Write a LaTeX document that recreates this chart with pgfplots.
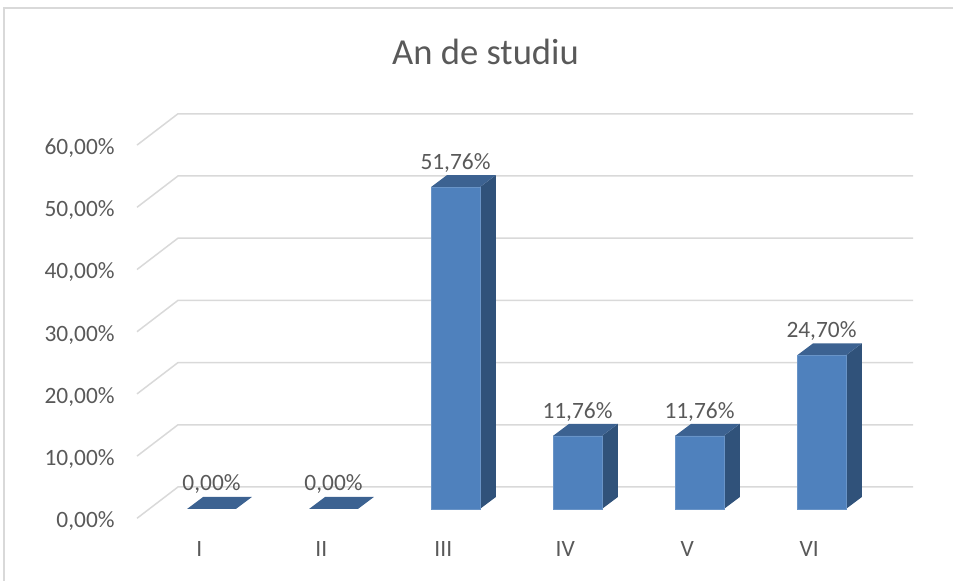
\documentclass[border=0pt]{standalone}
\usepackage{pgfplots}
\pgfplotsset{compat=1.18}
\usepackage{fontspec}
\setmainfont{Carlito}
\definecolor{gridc}{HTML}{D9D9D9}
\definecolor{txtc}{HTML}{595959}
\definecolor{frontc}{HTML}{4F81BD}
\definecolor{sidec}{HTML}{30527A}
\definecolor{topc}{HTML}{3C6291}
\tikzset{lab/.style={anchor=base, inner sep=0pt, text=txtc, font=\fontsize{11.7}{14}\selectfont}}
\begin{document}
\begin{tikzpicture}
\begin{axis}[
  at={(0,0)}, anchor=south west,
  x=61pt, y=3.11pt, scale only axis,
  xmin=-1.7336, xmax=6.0779, ymin=-11.576, ymax=81.83,
  axis lines=none, ticks=none, clip=false,
]
% frame
\addplot[color=gridc, line width=0.8pt] coordinates {(-1.701,-11.576) (-1.701,80.55) (6.0779,80.55)};
% back gridlines and diagonals
\pgfplotsinvokeforeach{0,10,20,30,40,50,60}{
  \addplot[color=gridc, line width=0.75pt] coordinates {(-0.6107,#1-1.5) (-0.2746,#1+3.54) (5.75,#1+3.54)};
}
% tick labels
\pgfplotsinvokeforeach{0,10,20,30,40,50,60}{
  \node[lab, anchor=base east] at (axis cs:-0.791,#1-3.0) {#1,00\%};
}
% zero slabs I, II
\addplot[fill=topc, draw=none] coordinates {(-0.20,0) (0.20,0) (0.331,1.93) (-0.069,1.93) (-0.20,0)};
\addplot[fill=topc, draw=none] coordinates {(0.80,0) (1.20,0) (1.331,1.93) (0.931,1.93) (0.80,0)};
% III
\addplot[fill=sidec, draw=none] coordinates {(2.20,0) (2.331,1.93) (2.331,53.69) (2.20,51.76) (2.20,0)};
\addplot[fill=topc, draw=none] coordinates {(1.80,51.76) (2.20,51.76) (2.331,53.69) (1.931,53.69) (1.80,51.76)};
% IV
\addplot[fill=sidec, draw=none] coordinates {(3.20,0) (3.331,1.93) (3.331,13.69) (3.20,11.76) (3.20,0)};
\addplot[fill=topc, draw=none] coordinates {(2.80,11.76) (3.20,11.76) (3.331,13.69) (2.931,13.69) (2.80,11.76)};
% V
\addplot[fill=sidec, draw=none] coordinates {(4.20,0) (4.331,1.93) (4.331,13.69) (4.20,11.76) (4.20,0)};
\addplot[fill=topc, draw=none] coordinates {(3.80,11.76) (4.20,11.76) (4.331,13.69) (3.931,13.69) (3.80,11.76)};
% VI
\addplot[fill=sidec, draw=none] coordinates {(5.20,0) (5.331,1.93) (5.331,26.63) (5.20,24.70) (5.20,0)};
\addplot[fill=topc, draw=none] coordinates {(4.80,24.70) (5.20,24.70) (5.331,26.63) (4.931,26.63) (4.80,24.70)};
% front faces
\addplot[ybar, bar width=0.4016, fill=frontc, draw=frontc!85!white, line width=0.3pt]
  coordinates {(2,51.76) (3,11.76) (4,11.76) (5,24.70)};
% value labels
\node[lab] at (axis cs:0,2.9) {0,00\%};
\node[lab] at (axis cs:1,2.9) {0,00\%};
\node[lab] at (axis cs:2,54.6) {51,76\%};
\node[lab] at (axis cs:3,14.6) {11,76\%};
\node[lab] at (axis cs:4,14.6) {11,76\%};
\node[lab] at (axis cs:5,27.55) {24,70\%};
% category labels
\node[lab] at (axis cs:-0.1,-7.67) {I};
\node[lab] at (axis cs:0.9,-7.67) {II};
\node[lab] at (axis cs:1.9,-7.67) {III};
\node[lab] at (axis cs:2.9,-7.67) {IV};
\node[lab] at (axis cs:3.9,-7.67) {V};
\node[lab] at (axis cs:4.9,-7.67) {VI};
% title
\node[lab, font=\fontsize{18.3}{22}\selectfont] at (axis cs:2.246,71.38) {An de studiu};
\end{axis}
\pgfresetboundingbox
\path (0,0) rectangle (476.5pt,290.5pt);
\end{tikzpicture}
\end{document}
